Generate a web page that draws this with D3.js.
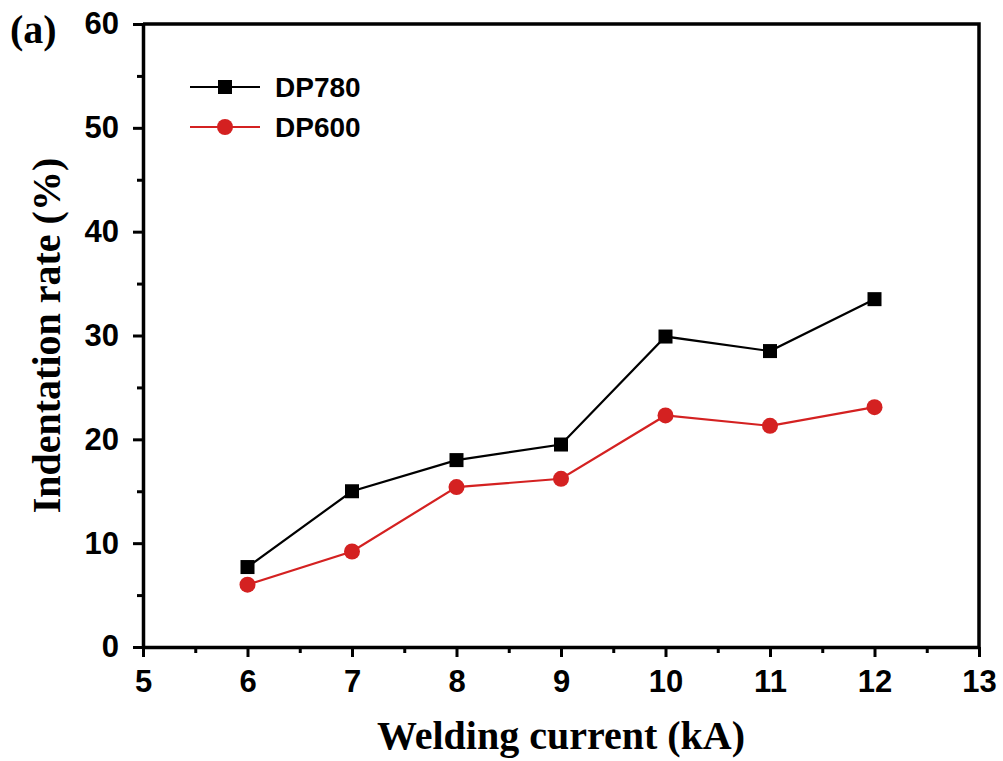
<!DOCTYPE html>
<meta charset="utf-8">
<head>
    <title>Indentation rate vs welding current</title>
</head>
<style>
  body { margin: 0; background: #fff; }
</style>
<script src="https://d3js.org/d3.v7.min.js"></script>
<div id="chart"></div>
<script>

// data
var current = [6, 7, 8, 9, 10, 11, 12];
var dp780 = [7.7, 15.0, 18.0, 19.5, 29.9, 28.5, 33.5];
var dp600 = [6.0, 9.2, 15.4, 16.2, 22.3, 21.3, 23.1];
var xTicks = [5, 6, 7, 8, 9, 10, 11, 12, 13];
var yTicks = [0, 10, 20, 30, 40, 50, 60];

var width = 1003, height = 761;
var margin = {top: 24, right: 24, bottom: 114, left: 143};

var svg = d3.select("#chart")
  .append("svg")
    .attr("width", width)
    .attr("height", height);

var x = d3.scaleLinear().domain([5, 13]).range([margin.left, width - margin.right]);
var y = d3.scaleLinear().domain([0, 60]).range([height - margin.bottom, margin.top]);

var red = "#d42121";

// minor ticks
svg.append("g")
    .attr("transform", "translate(0," + y(0) + ")")
    .call(d3.axisBottom(x).tickValues(d3.range(5.5, 13, 1)).tickSize(6).tickFormat(""))
    .call(g => g.select(".domain").remove())
    .selectAll("line").attr("stroke-width", 3);
svg.append("g")
    .attr("transform", "translate(" + x(5) + ",0)")
    .call(d3.axisLeft(y).tickValues(d3.range(5, 60, 10)).tickSize(6).tickFormat(""))
    .call(g => g.select(".domain").remove())
    .selectAll("line").attr("stroke-width", 3);

// major axes
var xAxis = svg.append("g")
    .attr("transform", "translate(0," + y(0) + ")")
    .call(d3.axisBottom(x).tickValues(xTicks).tickSize(10).tickSizeOuter(0).tickPadding(13));
var yAxis = svg.append("g")
    .attr("transform", "translate(" + x(5) + ",0)")
    .call(d3.axisLeft(y).tickValues(yTicks).tickSize(10).tickSizeOuter(0).tickPadding(14));

[xAxis, yAxis].forEach(function(g) {
  g.select(".domain").attr("stroke-width", 3.5);
  g.selectAll("line").attr("stroke-width", 3);
  g.selectAll("text")
    .style("font-family", "'Liberation Sans', Arial, sans-serif")
    .style("font-weight", "bold")
    .style("font-size", "31px")
    .attr("fill", "#000");
});

// top and right frame
svg.append("path")
    .attr("d", "M" + x(5) + "," + y(60) + "H" + x(13) + "V" + y(0))
    .attr("fill", "none")
    .attr("stroke", "#000")
    .attr("stroke-width", 3.5);

var line780 = d3.line()
    .x(function(d, i) { return x(current[i]); })
    .y(function(d) { return y(d); });

svg.append("path")
    .attr("d", line780(dp780))
    .attr("fill", "none")
    .attr("stroke", "#000")
    .attr("stroke-width", 2.2);
svg.append("path")
    .attr("d", line780(dp600))
    .attr("fill", "none")
    .attr("stroke", red)
    .attr("stroke-width", 2.2);

svg.selectAll(".sq")
    .data(dp780)
  .enter().append("rect")
    .attr("x", function(d, i) { return x(current[i]) - 7; })
    .attr("y", function(d) { return y(d) - 7; })
    .attr("width", 14)
    .attr("height", 14)
    .attr("fill", "#000");

svg.selectAll(".dot")
    .data(dp600)
  .enter().append("circle")
    .attr("cx", function(d, i) { return x(current[i]); })
    .attr("cy", function(d) { return y(d); })
    .attr("r", 8)
    .attr("fill", red);

// legend
var legend = [{name: "DP780", color: "#000", shape: "square"},
              {name: "DP600", color: red, shape: "circle"}];
legend.forEach(function(l, i) {
  var ly = 87 + i * 40;
  svg.append("line")
      .attr("x1", 190).attr("x2", 260).attr("y1", ly).attr("y2", ly)
      .attr("stroke", l.color).attr("stroke-width", 2);
  if (l.shape == "square") {
    svg.append("rect").attr("x", 218).attr("y", ly - 7).attr("width", 14).attr("height", 14).attr("fill", l.color);
  } else {
    svg.append("circle").attr("cx", 225).attr("cy", ly).attr("r", 8).attr("fill", l.color);
  }
  svg.append("text")
      .attr("x", 275).attr("y", ly + 10)
      .style("font-family", "'Liberation Sans', Arial, sans-serif")
      .style("font-weight", "bold")
      .style("font-size", "28px")
      .text(l.name);
});

// titles
svg.append("text")
    .attr("x", (x(5) + x(13)) / 2)
    .attr("y", 749)
    .attr("text-anchor", "middle")
    .style("font-family", "'Liberation Serif', 'Times New Roman', serif")
    .style("font-weight", "bold")
    .style("font-size", "40px")
    .text("Welding current (kA)");

svg.append("text")
    .attr("transform", "translate(60," + (y(30)) + ") rotate(-90)")
    .attr("text-anchor", "middle")
    .style("font-family", "'Liberation Serif', 'Times New Roman', serif")
    .style("font-weight", "bold")
    .style("font-size", "40px")
    .text("Indentation rate (%)");

svg.append("text")
    .attr("x", 10)
    .attr("y", 43)
    .style("font-family", "'Liberation Serif', 'Times New Roman', serif")
    .style("font-weight", "bold")
    .style("font-size", "40px")
    .text("(a)");

</script>
